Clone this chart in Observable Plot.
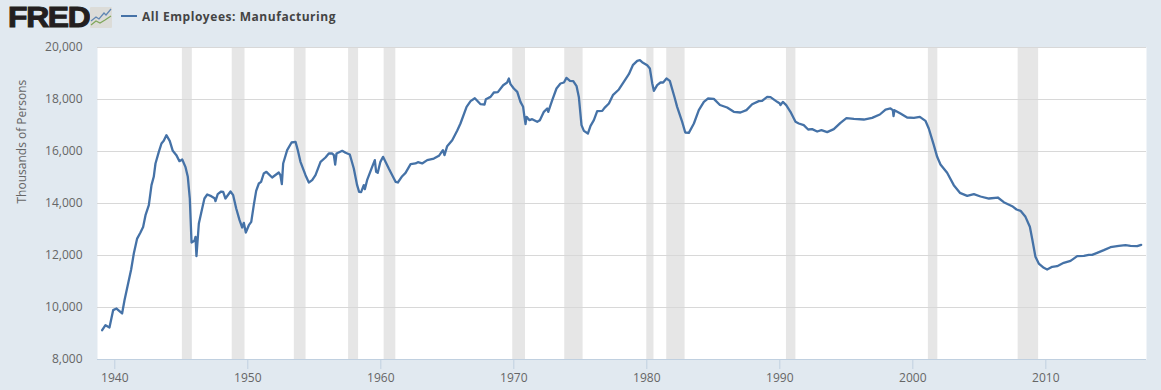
<!DOCTYPE html>
<html>
<head>
<meta charset="utf-8">
<script src="https://cdn.jsdelivr.net/npm/d3@7"></script>
<script src="https://cdn.jsdelivr.net/npm/@observablehq/plot@0.6"></script>
<style>
html,body{margin:0;padding:0;background:#e1e9f0;overflow:hidden}
#wrap{position:relative;width:1161px;height:390px}
#wrap svg.chart{display:block}
#logo{position:absolute;left:8px;top:-1px;font:900 30px/36px "Liberation Sans",sans-serif;letter-spacing:-1.2px;color:#231f20;-webkit-text-stroke:1.1px #231f20;transform-origin:left center;transform:scaleX(1.06)}
#spark{position:absolute;left:90px;top:7px}
#legend{position:absolute;left:121px;top:6px;height:20px;display:flex;align-items:center;font:700 12px "Open Sans",sans-serif;letter-spacing:.55px;color:#444}
#legend i{display:block;width:16px;height:2px;background:#4572a7;margin-right:5px}
</style>
</head>
<body>
<div id="wrap">
<div id="logo">FRED</div>
<svg id="spark" width="22" height="21" viewBox="0 0 22 21"><rect width="22" height="21" rx="1" fill="#dcdcd8"/><path d="M1 14L6 10L9 12L14 6L16 8L21 2" fill="none" stroke="#5f86b3" stroke-width="1.2"/><path d="M1 18L6 14L10 16L15 13L21 9" fill="none" stroke="#7fa65a" stroke-width="1.2"/></svg>
<div id="legend"><i></i>All Employees: Manufacturing</div>
</div>
<script>
const years = [1939.05,1939.3,1939.6,1939.88,1940.13,1940.55,1940.73,1941.23,1941.43,1941.68,1941.93,1942.13,1942.31,1942.56,1942.76,1942.93,1943.06,1943.31,1943.51,1943.68,1943.88,1944.13,1944.36,1944.63,1944.86,1945.07,1945.31,1945.49,1945.64,1945.77,1945.99,1946.07,1946.14,1946.32,1946.57,1946.74,1946.95,1947.25,1947.5,1947.57,1947.74,1948.0,1948.15,1948.32,1948.7,1948.9,1949.13,1949.38,1949.58,1949.7,1949.85,1950.08,1950.26,1950.45,1950.63,1950.83,1951.0,1951.2,1951.4,1951.83,1952.33,1952.45,1952.56,1952.66,1952.96,1953.29,1953.59,1953.76,1953.96,1954.34,1954.59,1954.84,1955.09,1955.47,1955.84,1956.09,1956.35,1956.47,1956.57,1956.67,1957.1,1957.35,1957.67,1957.97,1958.22,1958.37,1958.52,1958.72,1958.8,1958.97,1959.35,1959.55,1959.65,1959.77,1959.97,1960.17,1960.6,1960.86,1961.11,1961.28,1961.61,1961.86,1962.24,1962.61,1962.79,1963.11,1963.49,1963.99,1964.37,1964.67,1964.79,1964.99,1965.37,1965.74,1965.99,1966.45,1966.75,1967.07,1967.5,1967.8,1967.9,1968.25,1968.5,1968.8,1969.2,1969.5,1969.63,1969.75,1970.0,1970.26,1970.5,1970.7,1970.8,1970.88,1970.96,1971.18,1971.38,1971.76,1971.96,1972.26,1972.51,1972.59,1972.89,1973.21,1973.51,1973.77,1973.96,1974.22,1974.47,1974.72,1974.89,1975.09,1975.27,1975.57,1975.77,1976.02,1976.27,1976.65,1976.82,1977.15,1977.45,1977.9,1978.27,1978.65,1978.95,1979.28,1979.48,1979.65,1980.03,1980.23,1980.41,1980.53,1980.78,1981.03,1981.23,1981.48,1981.73,1982.09,1982.28,1982.66,1982.89,1983.16,1983.54,1983.91,1984.29,1984.59,1985.04,1985.5,1986.04,1986.54,1987.04,1987.49,1987.92,1988.42,1988.67,1989.05,1989.3,1989.8,1990.0,1990.05,1990.23,1990.48,1990.8,1991.18,1991.43,1991.8,1992.13,1992.43,1992.81,1993.13,1993.56,1994.06,1994.56,1995.01,1995.57,1996.32,1996.94,1997.52,1997.95,1998.32,1998.5,1998.55,1998.62,1999.07,1999.57,2000.08,2000.53,2000.95,2001.2,2001.58,2001.83,2002.08,2002.58,2003.08,2003.54,2004.09,2004.59,2005.09,2005.72,2006.39,2006.84,2007.47,2007.8,2008.1,2008.47,2008.8,2008.97,2009.22,2009.47,2009.85,2010.1,2010.48,2010.85,2011.35,2011.86,2012.36,2012.86,2013.23,2013.48,2013.86,2014.36,2014.86,2015.49,2015.99,2016.37,2016.87,2017.17];
const employees = [9127,9320,9230,9900,9960,9770,10280,11460,12075,12650,12885,13100,13550,13936,14705,15026,15538,15987,16308,16410,16628,16410,16026,15860,15628,15692,15410,15026,14192,12500,12564,12718,11974,13230,13808,14192,14346,14282,14205,14090,14360,14460,14450,14192,14460,14320,13808,13360,13077,13256,12885,13166,13295,13936,14487,14769,14833,15154,15218,15000,15192,15090,14744,15538,16051,16346,16372,16051,15602,15090,14808,14897,15090,15602,15769,15923,15923,15860,15500,15923,16026,15950,15885,15346,14705,14449,14436,14705,14550,14897,15410,15667,15218,15180,15602,15795,15346,15090,14833,14808,15050,15180,15513,15540,15590,15540,15667,15730,15833,16050,15860,16205,16436,16795,17077,17718,17936,18050,17820,17808,18013,18100,18270,18282,18550,18654,18808,18590,18423,18295,17910,17718,17333,17051,17333,17205,17243,17141,17205,17526,17654,17526,17974,18423,18615,18654,18833,18718,18705,18513,18100,17013,16795,16692,16987,17205,17551,17564,17680,17846,18167,18385,18680,18974,19320,19487,19513,19436,19320,19192,18615,18333,18551,18654,18654,18808,18718,18077,17718,17141,16731,16718,17077,17590,17910,18038,18026,17790,17692,17526,17500,17590,17820,17936,17950,18103,18090,17910,17846,17782,17910,17782,17526,17141,17077,17013,16846,16859,16769,16820,16744,16859,17103,17282,17256,17230,17295,17423,17615,17654,17590,17359,17590,17461,17308,17295,17333,17180,16885,16244,15795,15500,15180,14705,14410,14295,14359,14269,14192,14230,14051,13897,13769,13718,13487,13103,12654,11949,11692,11526,11462,11564,11590,11718,11795,11974,11987,12026,12026,12103,12205,12320,12372,12397,12372,12359,12410];
const recessionStart = [1945.08,1948.83,1953.5,1957.58,1960.25,1969.92,1973.83,1980.0,1981.5,1990.5,2001.17,2007.92];
const recessionEnd = [1945.83,1949.79,1954.38,1958.33,1961.13,1970.88,1975.21,1980.54,1982.88,1991.21,2001.88,2009.46];
const xTicks = [1940,1950,1960,1970,1980,1990,2000,2010];
const yTicks = [8000,10000,12000,14000,16000,18000,20000];
const yLabel = "Thousands of Persons";

const chart = Plot.plot({
  width: 1161, height: 390,
  marginLeft: 97, marginRight: 15, marginTop: 47, marginBottom: 31,
  style: {background: "transparent", fontFamily: "'Open Sans',sans-serif", fontSize: "12px", color: "#666"},
  x: {domain: [1938.7, 2017.57], label: null},
  y: {domain: [8000, 20000], label: null},
  marks: [
    Plot.frame({fill: "#fff", stroke: null}),
    Plot.rect(recessionStart, {x1: d => d, x2: (d, i) => recessionEnd[i], y1: 8000, y2: 20000, fill: "#e6e6e6"}),
    Plot.gridY(yTicks, {stroke: "#d8d8d8", strokeOpacity: 1, strokeWidth: 1}),
    Plot.ruleY([8000], {stroke: "#c0d0e0", strokeWidth: 1}),
    Plot.axisY(yTicks, {tickSize: 0, tickPadding: 15, tickFormat: d3.format(","), label: null, fill: "#666"}),
    Plot.axisX(xTicks, {tickSize: 10, tickPadding: 4, tickFormat: d3.format("d"), stroke: "#c0d0e0", fill: "#666", label: null}),
    Plot.line(years, {x: d => d, y: (d, i) => employees[i], stroke: "#4572a7", strokeWidth: 2.3, strokeLinejoin: "round"}),
    Plot.text([yLabel], {text: d => d, frameAnchor: "left", dx: -75, rotate: -90, fill: "#666", fontSize: 12})
  ]
});
chart.classList.add("chart");
document.getElementById("wrap").prepend(chart);
</script>
</body>
</html>
